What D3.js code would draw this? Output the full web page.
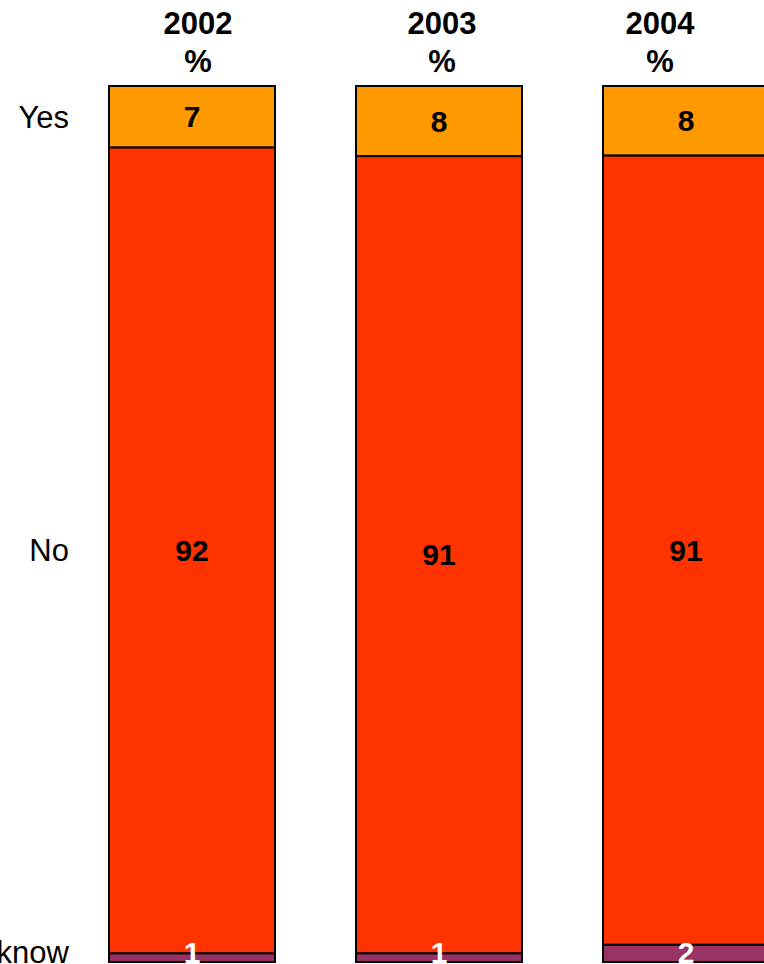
<!DOCTYPE html>
<html>
<head>
<meta charset="utf-8">
<script src="https://cdn.jsdelivr.net/npm/d3@7"></script>
<style>
  html, body { margin: 0; padding: 0; background: #fff; overflow: hidden; }
  svg { display: block; font-family: "Liberation Sans", Arial, sans-serif; }
</style>
</head>
<body>
<svg id="chart" width="764" height="964"></svg>
<script>
// Survey answers by year (percent)
const years = ["2002", "2003", "2004"];
const yesValues = [7, 8, 8];
const noValues = [92, 91, 91];
const dontKnowValues = [1, 1, 2];

const answerKeys = ["dontKnow", "no", "yes"];          // bottom to top
const answerLabels = { yes: "Yes", no: "No", dontKnow: "Don't know" };
const answerColors = { yes: "#FF9900", no: "#FF3300", dontKnow: "#993366" };
const valueTextColors = { yes: "#000", no: "#000", dontKnow: "#fff" };

const rows = years.map((y, i) => ({
  year: y, yes: yesValues[i], no: noValues[i], dontKnow: dontKnowValues[i]
}));

const svg = d3.select("#chart");

// Layout
const barTop = 86, barBottom = 962;
const x = d3.scaleBand()
  .domain(years)
  .range([109, 769])
  .paddingInner(0.328)
  .paddingOuter(0);

const y = d3.scaleLinear().domain([0, 1]).range([barBottom, barTop]);

const stack = d3.stack().keys(answerKeys).offset(d3.stackOffsetExpand);
const series = stack(rows);
series.forEach(s => s.forEach(d => { d.key = s.key; }));
const segments = series.flat();

// Vertical anchor for a segment's label (thin bottom segments keep the label readable)
const labelY = d => Math.min((y(d[0]) + y(d[1])) / 2, barBottom - 10);

// Stacked segments
svg.append("g").selectAll("rect")
  .data(segments)
  .join("rect")
  .attr("x", d => x(d.data.year))
  .attr("width", x.bandwidth())
  .attr("y", d => y(d[1]))
  .attr("height", d => y(d[0]) - y(d[1]))
  .attr("fill", d => answerColors[d.key])
  .attr("stroke", "#000")
  .attr("stroke-width", 2);

// Value labels, drawn above all segments
svg.append("g").selectAll("text")
  .data(segments)
  .join("text")
  .attr("x", d => x(d.data.year) + x.bandwidth() / 2)
  .attr("y", labelY)
  .attr("dy", "0.35em")
  .attr("text-anchor", "middle")
  .attr("font-size", 30)
  .attr("font-weight", "bold")
  .attr("fill", d => valueTextColors[d.key])
  .text(d => d.data[d.key]);

// Column headers
const headerNudge = [6, 3, -26];
const headers = svg.append("g").selectAll("text")
  .data(years)
  .join("text")
  .attr("text-anchor", "middle")
  .attr("font-size", 31)
  .attr("font-weight", "bold")
  .attr("fill", "#000")
  .attr("transform", (d, i) => `translate(${x(d) + x.bandwidth() / 2 + headerNudge[i]},0)`);
headers.append("tspan").attr("x", 0).attr("y", 34).text(d => d);
headers.append("tspan").attr("x", 0).attr("y", 72).text("%");

// Row labels, aligned with the first column's segments
const firstCol = series.map(s => s[0]);
svg.append("g").selectAll("text")
  .data(firstCol)
  .join("text")
  .attr("x", 69)
  .attr("y", labelY)
  .attr("dy", "0.35em")
  .attr("text-anchor", "end")
  .attr("font-size", 31)
  .attr("fill", "#000")
  .text(d => answerLabels[d.key]);
</script>
</body>
</html>
